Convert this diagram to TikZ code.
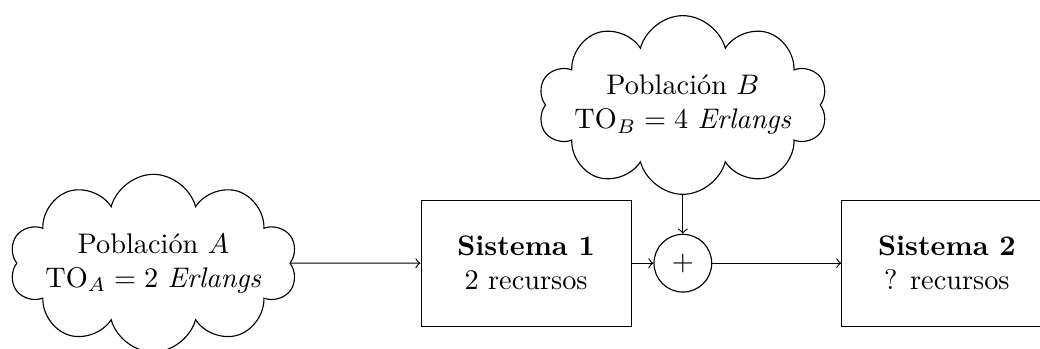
\documentclass[tikz,border=0pt]{standalone}
\usetikzlibrary{shapes.symbols}
\begin{document}
\begin{tikzpicture}[x=1pt,y=1pt,
  pop/.style={cloud, draw, cloud puffs=10, align=center, aspect=2.3, inner sep=-4pt},
  sysbox/.style={draw, rectangle, align=center, minimum width=74.2pt, minimum height=44.5pt},
  sumnode/.style={draw, circle, minimum size=20.4pt, inner sep=0pt},
  conn/.style={->}]
\useasboundingbox (0,0) rectangle (367.5,123.3);
\node[pop] (popA) at (54.2,30.3) {Población $A$\\TO$_A=2$ \textit{Erlangs}};
\node[sysbox] (sys1) at (185.9,30.3) {\textbf{Sistema 1}\\2 recursos};
\node[sumnode] (sum) at (241.3,30.3) {$+$};
\node[sysbox] (sys2) at (334.6,30.3) {\textbf{Sistema 2}\\? recursos};
\node[pop] (popB) at (241.3,86.2) {Población $B$\\TO$_B=4$ \textit{Erlangs}};
\draw[conn] (popA) -- (sys1);
\draw[conn] (sys1) -- (sum);
\draw[conn] (popB) -- (sum);
\draw[conn] (sum) -- (sys2);
\end{tikzpicture}
\end{document}
